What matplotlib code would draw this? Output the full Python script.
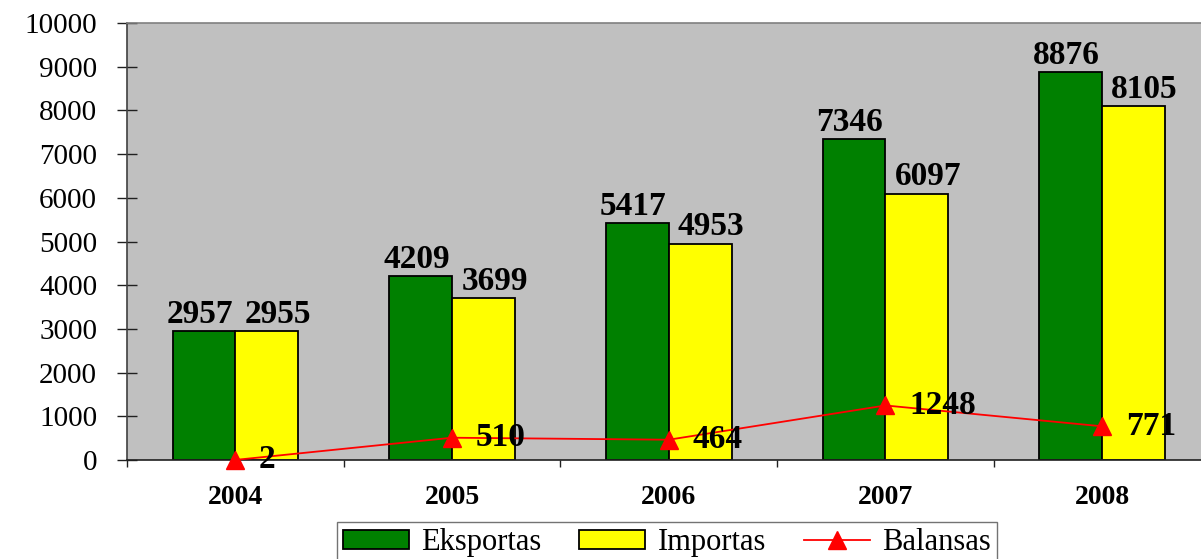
import matplotlib
matplotlib.use("Agg")
import matplotlib.pyplot as plt
import numpy as np
from matplotlib.ticker import MultipleLocator, FixedLocator

years = ["2004", "2005", "2006", "2007", "2008"]
eksportas = [2957, 4209, 5417, 7346, 8876]
importas = [2955, 3699, 4953, 6097, 8105]
balansas = [2, 510, 464, 1248, 771]

plt.rcParams['font.family'] = ['Liberation Serif', 'DejaVu Serif']

W, H = 1201, 559
fig = plt.figure(figsize=(W / 100, H / 100), dpi=100)
ax = fig.add_axes([127 / W, (H - 460) / H, (1210.5 - 127) / W, (460 - 23) / H])
ax.set_facecolor('#C0C0C0')

x = np.arange(len(years))
bw = 0.29
b1 = ax.bar(x - bw / 2, eksportas, bw, color='#008000', edgecolor='black', linewidth=1.3,
            label='Eksportas', zorder=2)
b2 = ax.bar(x + bw / 2, importas, bw, color='#FFFF00', edgecolor='black', linewidth=1.3,
            label='Importas', zorder=2)
l1, = ax.plot(x, balansas, color='#FF0000', linewidth=1.3, marker='^', markersize=13,
              label='Balansas', zorder=4, clip_on=False)

for xi, v in zip(x - bw / 2, eksportas):
    ax.annotate(str(v), (xi, v), xytext=(-3, 12), textcoords='offset points',
                ha='center', va='center', fontsize=24, fontweight='bold', zorder=5)
for xi, v in zip(x + bw / 2, importas):
    ax.annotate(str(v), (xi, v), xytext=(8, 12), textcoords='offset points',
                ha='center', va='center', fontsize=24, fontweight='bold', zorder=5)
for xi, v in zip(x, balansas):
    ax.annotate(str(v), (xi, v), xytext=(17, 0), textcoords='offset points',
                ha='left', va='center', fontsize=24, fontweight='bold', zorder=5,
                annotation_clip=False)

ax.set_xlim(-0.5, len(years) - 0.5)
ax.set_ylim(0, 10000)
ax.yaxis.set_major_locator(MultipleLocator(1000))
ax.tick_params(axis='y', direction='inout', length=15, width=1, pad=14,
               labelsize=21, color='#202020')
ax.set_xticks(x)
ax.set_xticklabels(years, fontweight='bold', fontsize=20)
ax.tick_params(axis='x', which='major', length=0, pad=18)
ax.xaxis.set_minor_locator(FixedLocator(np.arange(-0.5, len(years), 1.0)))
ax.tick_params(axis='x', which='minor', direction='out', length=5, width=1, color='#202020')

ax.spines['left'].set_color('#404040')
ax.spines['bottom'].set_color('#202020')
ax.spines['top'].set_color('#808080')
ax.spines['right'].set_visible(False)
for s in ax.spines.values():
    s.set_linewidth(1.2)

leg = fig.legend([b1, b2, l1], ['Eksportas', 'Importas', 'Balansas'],
                 loc='upper left', bbox_to_anchor=(337 / W, (H - 522) / H), ncol=3,
                 fontsize=22, frameon=True, fancybox=False, edgecolor='#505050',
                 handlelength=2.15, handleheight=0.56, handletextpad=0.4,
                 columnspacing=1.25, borderpad=0.2, borderaxespad=0)
leg.get_frame().set_linewidth(1.0)

fig.savefig('out.png', dpi=100)
